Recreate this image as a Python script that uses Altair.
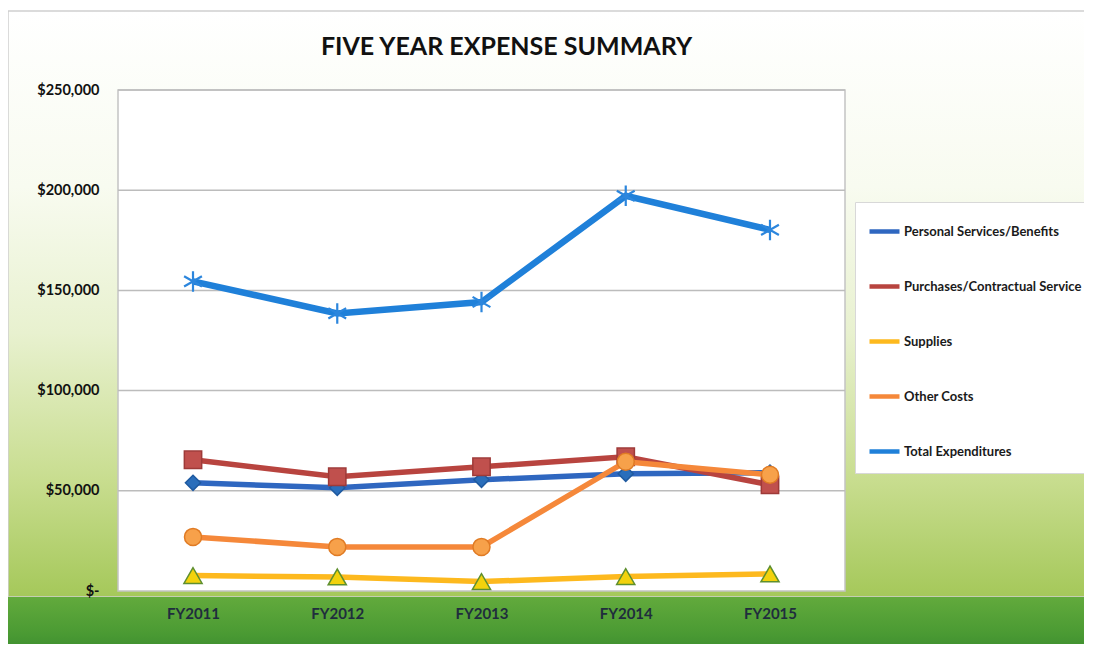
import altair as alt
import pandas as pd

years = ["FY2011", "FY2012", "FY2013", "FY2014", "FY2015"]
series_names = ["Personal Services/Benefits", "Purchases/Contractual Service",
                "Supplies", "Other Costs", "Total Expenditures"]
personal = [54000, 51500, 55500, 58500, 59000]
purchases = [65500, 57000, 62000, 67000, 53000]
supplies = [7700, 7000, 4700, 7200, 8500]
other = [27000, 22000, 22000, 64500, 58000]
total = [154500, 138500, 144200, 197200, 180200]
y_ticks = [0, 50000, 100000, 150000, 200000, 250000]
grid_vals = [50000, 100000, 150000, 200000, 250000]

line_colors = ["#2f67c0", "#b8443f", "#fdb91e", "#f5883a", "#1f80d9"]
point_fill = ["#2a6ebb", "#c0504d", "#f2d20c", "#f7a14a", "transparent"]
point_stroke = ["#1f5aa0", "#9e3a38", "#5e8f2f", "#e07b24", "#2c86dd"]
asterisk = "M0,-1L0,1M-0.87,-0.5L0.87,0.5M-0.87,0.5L0.87,-0.5"
shapes = ["diamond", "square", "triangle-up", "circle", asterisk]
sizes = [230, 300, 330, 290, 420]

values = [personal, purchases, supplies, other, total]
rows = []
for s, vals in zip(series_names, values):
    for yr, v in zip(years, vals):
        rows.append({"series": s, "year": yr, "value": v})
df = pd.DataFrame(rows)

W, H = 727, 501
FONT = "Lato"

dummy = pd.DataFrame({"k": [0]})

bg = alt.Chart(dummy).mark_rect(
    color=alt.LinearGradient(
        gradient="linear", x1=0, x2=0, y1=0, y2=1,
        stops=[alt.GradientStop(offset=0, color="#ffffff"),
               alt.GradientStop(offset=0.3, color="#f8fbf0"),
               alt.GradientStop(offset=0.55, color="#e8f1cf"),
               alt.GradientStop(offset=0.8, color="#c8dd8f"),
               alt.GradientStop(offset=1, color="#a5c85a")]),
    stroke="#cfcfcf", strokeWidth=1.5
).encode(x=alt.value(-110), x2=alt.value(W + 260), y=alt.value(-79), y2=alt.value(H + 6))

grass = alt.Chart(dummy).mark_rect(
    color=alt.LinearGradient(
        gradient="linear", x1=0, x2=0, y1=0, y2=1,
        stops=[alt.GradientStop(offset=0, color="#62aa3c"),
               alt.GradientStop(offset=0.5, color="#4a9a33"),
               alt.GradientStop(offset=1, color="#2f7f2b")])
).encode(x=alt.value(-110), x2=alt.value(W + 260), y=alt.value(H + 6), y2=alt.value(H + 80))

plotbg = alt.Chart(dummy).mark_rect(
    fill="white", stroke="#c4c4c4", strokeWidth=1.5
).encode(x=alt.value(0), x2=alt.value(W), y=alt.value(0), y2=alt.value(H))

yscale = alt.Scale(domain=[0, 250000], nice=False)
xscale = alt.Scale(domain=years, type="point", padding=0.52)

grid = alt.Chart(pd.DataFrame({"g": grid_vals})).mark_rule(
    color="#bcbcbc", strokeWidth=1.5
).encode(y=alt.Y("g:Q", scale=yscale), x=alt.value(0), x2=alt.value(W))

color_scale = alt.Scale(domain=series_names, range=line_colors)

legend = alt.Legend(
    title=None, orient="none", legendX=737, legendY=112,
    symbolType="stroke", symbolStrokeWidth=4.5, symbolSize=900,
    labelFont=FONT, labelFontSize=13, labelFontWeight="bold", labelColor="#1a1a1a",
    labelLimit=300, labelOffset=2, rowPadding=28, padding=12,
    fillColor="white", strokeColor="#d8d8d8", zindex=1,
)

layers = [bg, grass, plotbg, grid]
for i, s in enumerate(series_names):
    sub = alt.Chart(df).transform_filter(alt.datum.series == s)
    ln = sub.mark_line(strokeWidth=6.5 if i == 4 else 5.5).encode(
        x=alt.X("year:N", scale=xscale, sort=years,
                axis=alt.Axis(title=None, labelAngle=0, domain=False, ticks=False,
                              labelPadding=15, labelFont=FONT, labelFontSize=15,
                              labelFontWeight="bold", labelColor="#1f2d3d", zindex=1)),
        y=alt.Y("value:Q", scale=yscale,
                axis=alt.Axis(title=None, values=y_ticks, domain=False, ticks=False, grid=False,
                              labelPadding=19, labelFont=FONT, labelFontSize=14.5,
                              labelFontWeight="bold", labelColor="#111111", zindex=1,
                              labelExpr="datum.value == 0 ? '$-\u00a0\u00a0\u00a0' : '$' + format(datum.value, ',')")),
        color=alt.Color("series:N", scale=color_scale, legend=legend),
    )
    pt = sub.mark_point(
        shape=shapes[i], size=sizes[i], filled=(i != 4),
        fill=point_fill[i], stroke=point_stroke[i],
        strokeWidth=2.2 if i == 4 else 1.5, opacity=1,
    ).encode(
        x=alt.X("year:N", scale=xscale, sort=years),
        y=alt.Y("value:Q", scale=yscale),
    )
    layers += [ln, pt]

chart = alt.layer(*layers).properties(
    width=W, height=H,
    title=alt.Title("FIVE YEAR EXPENSE SUMMARY", font=FONT, fontSize=25, fontWeight="bold",
                    color="#111111", anchor="middle", dx=25, offset=0, dy=50,
                    frame="group", zindex=1),
    autosize=alt.AutoSizeParams(type="none"),
    padding={"left": 110, "top": 82, "right": 239, "bottom": 53},
).configure_view(stroke=None)

chart.save("out.html", embed_options={"renderer": "svg", "actions": False})
